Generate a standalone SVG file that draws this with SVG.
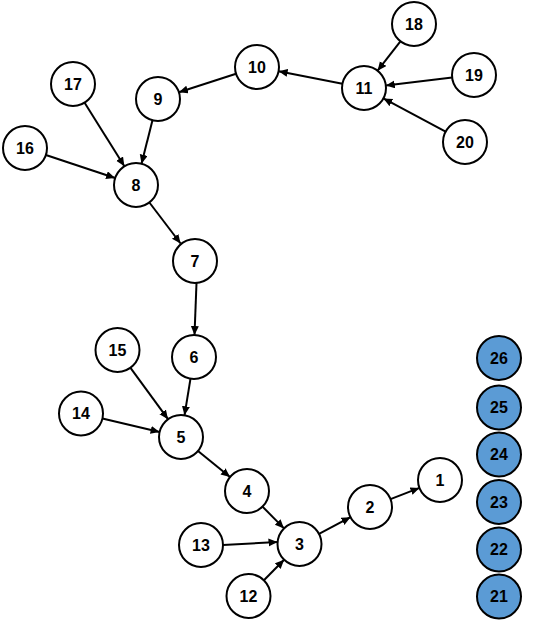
<svg xmlns="http://www.w3.org/2000/svg" width="536" height="620" viewBox="0 0 536 620">
<style>
.n circle{fill:#fff;stroke:#000;stroke-width:2}
.b circle{fill:#5b9bd5;stroke:#000;stroke-width:2}
text{font-family:"Liberation Sans",Arial,sans-serif;font-weight:bold;font-size:16px;text-anchor:middle;dominant-baseline:central;fill:#000}
#edges line{stroke:#000;stroke-width:2;marker-end:url(#ah)}
</style>
<defs>
<marker id="ah" markerUnits="userSpaceOnUse" markerWidth="10" markerHeight="9" refX="9" refY="4" orient="auto"><path d="M0,0 L9,4 L0,8 z" fill="#000"/></marker>
</defs>
<rect width="536" height="620" fill="#fff"/>
<g id="edges">
<line x1="390.5" y1="499.1" x2="419.5" y2="487.9"/>
<line x1="319" y1="533.8" x2="350.5" y2="517.2"/>
<line x1="262.5" y1="506.6" x2="284" y2="528.4"/>
<line x1="223" y1="545" x2="277.5" y2="542"/>
<line x1="263.9" y1="580.3" x2="284.1" y2="559.7"/>
<line x1="198" y1="450.9" x2="230" y2="477.1"/>
<line x1="190.5" y1="378.7" x2="184.5" y2="415.3"/>
<line x1="130.5" y1="367.8" x2="168" y2="419.2"/>
<line x1="102.4" y1="418.5" x2="159.6" y2="432"/>
<line x1="196.5" y1="283" x2="194.5" y2="335"/>
<line x1="149.4" y1="202.5" x2="180.6" y2="243.5"/>
<line x1="152.5" y1="120.3" x2="141.5" y2="163.7"/>
<line x1="84.6" y1="102.7" x2="124.4" y2="166.3"/>
<line x1="45.9" y1="155" x2="115.1" y2="178"/>
<line x1="236.1" y1="73.8" x2="178.9" y2="92.2"/>
<line x1="342.4" y1="83.8" x2="278.6" y2="71.2"/>
<line x1="400.4" y1="41.3" x2="377.6" y2="70.7"/>
<line x1="452.2" y1="77.6" x2="385.8" y2="85.4"/>
<line x1="445.6" y1="131.6" x2="383.4" y2="98.4"/>
</g>
<g id="n1" class="n"><circle cx="440" cy="480" r="22"/><text x="440" y="480">1</text></g>
<g id="n2" class="n"><circle cx="370" cy="507" r="22"/><text x="370" y="507">2</text></g>
<g id="n3" class="n"><circle cx="299.5" cy="544" r="22"/><text x="299.5" y="544">3</text></g>
<g id="n4" class="n"><circle cx="247" cy="491" r="22"/><text x="247" y="491">4</text></g>
<g id="n5" class="n"><circle cx="181" cy="437" r="22"/><text x="181" y="437">5</text></g>
<g id="n6" class="n"><circle cx="194" cy="357" r="22"/><text x="194" y="357">6</text></g>
<g id="n7" class="n"><circle cx="195" cy="261" r="22"/><text x="195" y="261">7</text></g>
<g id="n8" class="n"><circle cx="136" cy="185" r="22"/><text x="136" y="185">8</text></g>
<g id="n9" class="n"><circle cx="158" cy="99" r="22"/><text x="158" y="99">9</text></g>
<g id="n10" class="n"><circle cx="257" cy="67" r="22"/><text x="257" y="67">10</text></g>
<g id="n11" class="n"><circle cx="364" cy="88" r="22"/><text x="364" y="88">11</text></g>
<g id="n12" class="n"><circle cx="248.5" cy="596" r="22"/><text x="248.5" y="596">12</text></g>
<g id="n13" class="n"><circle cx="201" cy="545" r="22"/><text x="201" y="545">13</text></g>
<g id="n14" class="n"><circle cx="81" cy="413.5" r="22"/><text x="81" y="413.5">14</text></g>
<g id="n15" class="n"><circle cx="117.5" cy="350" r="22"/><text x="117.5" y="350">15</text></g>
<g id="n16" class="n"><circle cx="25" cy="148" r="22"/><text x="25" y="148">16</text></g>
<g id="n17" class="n"><circle cx="73" cy="84" r="22"/><text x="73" y="84">17</text></g>
<g id="n18" class="n"><circle cx="414" cy="24" r="22"/><text x="414" y="24">18</text></g>
<g id="n19" class="n"><circle cx="474" cy="75" r="22"/><text x="474" y="75">19</text></g>
<g id="n20" class="n"><circle cx="465" cy="142" r="22"/><text x="465" y="142">20</text></g>
<g id="n21" class="b"><circle cx="499" cy="596.5" r="22"/><text x="499" y="596.5">21</text></g>
<g id="n22" class="b"><circle cx="499" cy="549.5" r="22"/><text x="499" y="549.5">22</text></g>
<g id="n23" class="b"><circle cx="499" cy="502" r="22"/><text x="499" y="502">23</text></g>
<g id="n24" class="b"><circle cx="499" cy="454.5" r="22"/><text x="499" y="454.5">24</text></g>
<g id="n25" class="b"><circle cx="499" cy="407.5" r="22"/><text x="499" y="407.5">25</text></g>
<g id="n26" class="b"><circle cx="499" cy="358" r="22"/><text x="499" y="358">26</text></g>
</svg>
